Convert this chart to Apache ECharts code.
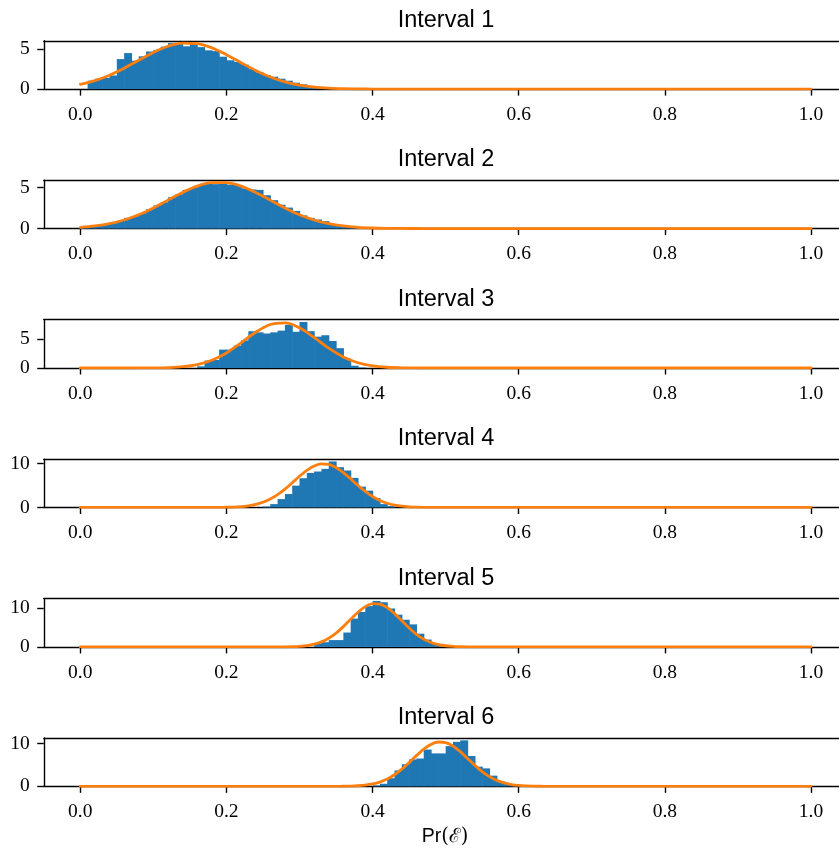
<!DOCTYPE html>
<html>
<head>
<meta charset="utf-8">
<script src="https://cdn.jsdelivr.net/npm/echarts@6/dist/echarts.min.js"></script>
<style>
  html, body { margin: 0; padding: 0; background: #ffffff; }
  #chart { width: 839px; height: 852px; }
</style>
</head>
<body>
<div id="chart"></div>
<script>
// ---- Data -------------------------------------------------------------
// Histogram densities, bin width 0.01, first bin starts at histNStart.
const binWidth = 0.01;

const titles = ['Interval 1', 'Interval 2', 'Interval 3', 'Interval 4', 'Interval 5', 'Interval 6'];
const xTicks = [0.0, 0.2, 0.4, 0.6, 0.8, 1.0];
const yTicksSmall = [0, 5];
const yTicksLarge = [0, 10];

const hist1Start = 0.01;
const hist1 = [1.05, 1.3, 1.4, 1.7, 3.75, 4.5, 3.55, 4.1, 4.7, 4.9, 5.3, 5.75, 5.75, 5.35, 5.65, 5.25, 4.85, 4.75,
  4.05, 3.6, 3.4, 3.05, 2.5, 2.1, 1.75, 1.55, 1.3, 1.05, 0.8, 0.6, 0.4, 0.25, 0.12, 0.05, 0.02];

const hist2Start = 0.00;
const hist2 = [0.15, 0.25, 0.35, 0.5, 0.65, 0.95, 1.3, 1.5, 1.85, 2.35, 2.8, 3.2, 3.8, 4.15, 4.7, 4.95, 5.3, 5.45,
  5.4, 5.45, 5.35, 5.3, 4.9, 4.75, 4.7, 4.05, 3.45, 2.9, 2.55, 2.15, 1.6, 1.3, 1.1, 0.9, 0.55, 0.4, 0.25, 0.15,
  0.1, 0.05, 0.02];

const hist3Start = 0.16;
const hist3 = [0.3, 1.3, 1.4, 3.2, 3.2, 3.9, 4.8, 6.4, 6.2, 6.0, 6.2, 6.5, 7.5, 6.3, 8.0, 6.4, 5.45, 5.7, 4.7,
  3.45, 1.65, 0.4, 0.1];

const hist4Start = 0.25;
const hist4 = [0.2, 0.76, 1.9, 3.05, 4.96, 6.64, 7.86, 8.17, 8.78, 10.46, 9.16, 8.4, 6.72, 4.73, 3.82, 2.14, 0.76, 0.3];

const hist5Start = 0.32;
const hist5 = [0.9, 1.2, 1.75, 1.75, 3.7, 7.3, 9.0, 10.5, 11.85, 11.5, 9.9, 8.3, 7.0, 5.8, 3.4, 1.9, 0.9, 0.3, 0.1];

const hist6Start = 0.40;
const hist6 = [0.2, 0.6, 1.9, 3.7, 5.15, 6.3, 6.5, 8.6, 7.7, 7.7, 9.4, 10.4, 10.75, 7.1, 4.6, 4.2, 2.5, 1.15, 0.6, 0.2];

// Fitted density curves, sampled from curveNStart with step curveNStep (zero elsewhere on [0, 1]).
const curve1Start = 0.00, curve1Step = 0.02;
const curve1 = [0.598, 1.062, 1.737, 2.61, 3.607, 4.584, 5.354, 5.75, 5.678, 5.155, 4.303, 3.303, 2.33, 1.512,
  0.902, 0.495, 0.25, 0.116, 0.049, 0.019, 0.007, 0.002, 0];

const curve2Start = 0.00, curve2Step = 0.02;
const curve2 = [0.151, 0.312, 0.592, 1.037, 1.678, 2.507, 3.456, 4.397, 5.162, 5.594, 5.594, 5.162, 4.397, 3.456,
  2.507, 1.678, 1.037, 0.592, 0.312, 0.151, 0.068, 0.028, 0.011, 0.004, 0.001, 0];

const curve3Start = 0.06, curve3Step = 0.02;
const curve3 = [0.001, 0.005, 0.02, 0.071, 0.221, 0.591, 1.346, 2.62, 4.37, 6.21, 7.56, 7.86, 6.99, 5.31, 3.45,
  1.92, 0.909, 0.369, 0.128, 0.038, 0.01, 0.002, 0];

const curve4Start = 0.18, curve4Step = 0.01;
const curve4 = [0.007, 0.018, 0.042, 0.092, 0.191, 0.373, 0.683, 1.18, 1.91, 2.91, 4.17, 5.61, 7.09, 8.43, 9.42,
  9.90, 9.78, 9.08, 7.92, 6.50, 5.01, 3.63, 2.48, 1.59, 0.954, 0.54, 0.288, 0.144, 0.068, 0.03, 0.012, 0.005,
  0.002, 0];

const curve5Start = 0.26, curve5Step = 0.01;
const curve5 = [0.003, 0.009, 0.026, 0.067, 0.157, 0.343, 0.692, 1.29, 2.23, 3.55, 5.22, 7.10, 8.92, 10.37, 11.13,
  11.04, 10.12, 8.58, 6.72, 4.86, 3.25, 2.01, 1.148, 0.605, 0.295, 0.133, 0.055, 0.021, 0.008, 0.003, 0.001, 0];

const curve6Start = 0.33, curve6Step = 0.01;
const curve6 = [0.001, 0.004, 0.010, 0.026, 0.061, 0.137, 0.285, 0.553, 1.005, 1.706, 2.705, 4.01, 5.55, 7.18,
  8.68, 9.81, 10.36, 10.22, 9.42, 8.11, 6.53, 4.91, 3.45, 2.27, 1.39, 0.798, 0.427, 0.214, 0.100, 0.044, 0.018,
  0.007, 0.002, 0.001, 0];

// ---- Layout -----------------------------------------------------------
const GRID_LEFT = 43.75;
const GRID_WIDTH = 795.25;          // runs to the right edge of the canvas
const X_MIN = -0.05;
const X_MAX = 1.0383;               // visible part of the [-0.05, 1.05] range
const PANEL_TOP0 = 40.8;
const PANEL_STEP = 139.45;
const PANEL_H = 48.3;

const BLUE = '#1f77b4';
const ORANGE = '#ff7f0e';
const TICK_FONT = '"Liberation Serif", "DejaVu Serif", serif';
const SANS_FONT = '"Liberation Sans", Arial, Helvetica, sans-serif';
const AXIS_LINE = { color: '#000', width: 1.4 };

const panels = [
  { hist: hist1, histStart: hist1Start, curve: curve1, cStart: curve1Start, cStep: curve1Step, yTicks: yTicksSmall },
  { hist: hist2, histStart: hist2Start, curve: curve2, cStart: curve2Start, cStep: curve2Step, yTicks: yTicksSmall },
  { hist: hist3, histStart: hist3Start, curve: curve3, cStart: curve3Start, cStep: curve3Step, yTicks: yTicksSmall },
  { hist: hist4, histStart: hist4Start, curve: curve4, cStart: curve4Start, cStep: curve4Step, yTicks: yTicksLarge },
  { hist: hist5, histStart: hist5Start, curve: curve5, cStart: curve5Start, cStep: curve5Step, yTicks: yTicksLarge },
  { hist: hist6, histStart: hist6Start, curve: curve6, cStart: curve6Start, cStep: curve6Step, yTicks: yTicksLarge }
];

const round = v => Math.round(v * 1e6) / 1e6;

const grids = [], xAxes = [], yAxes = [], series = [], graphics = [];

panels.forEach((p, i) => {
  const top = PANEL_TOP0 + i * PANEL_STEP;

  // histogram bins: [left edge, right edge, density]
  const binData = p.hist.map((v, k) => {
    const x0 = round(p.histStart + k * binWidth);
    return [x0, round(x0 + binWidth), v];
  });

  // density curve over [0, 1]
  const curveData = [];
  if (p.cStart > 0) curveData.push([0, 0]);
  p.curve.forEach((v, k) => curveData.push([round(p.cStart + k * p.cStep), v]));
  if (curveData[curveData.length - 1][0] < 1) curveData.push([1, 0]);

  const yMax = 1.05 * Math.max(Math.max(...p.hist), Math.max(...p.curve));

  grids.push({
    left: GRID_LEFT, top: top, width: GRID_WIDTH, height: PANEL_H,
    show: false, outerBoundsMode: 'none'
  });

  // bottom axis with ticks and labels
  xAxes.push({
    type: 'value', gridIndex: i, position: 'bottom', min: X_MIN, max: X_MAX,
    axisLine: { show: true, onZero: false, lineStyle: AXIS_LINE },
    axisTick: { show: true, length: 6.5, customValues: xTicks, lineStyle: AXIS_LINE },
    axisLabel: {
      show: true, customValues: xTicks, margin: 15.5,
      formatter: v => v.toFixed(1),
      fontFamily: TICK_FONT, fontSize: 19.5, color: '#000'
    },
    splitLine: { show: false }
  });
  // top frame line
  xAxes.push({
    type: 'value', gridIndex: i, position: 'top', min: X_MIN, max: X_MAX,
    axisLine: { show: true, onZero: false, lineStyle: AXIS_LINE },
    axisTick: { show: false }, axisLabel: { show: false }, splitLine: { show: false }
  });

  yAxes.push({
    type: 'value', gridIndex: i, position: 'left', min: 0, max: yMax,
    axisLine: { show: true, onZero: false, lineStyle: AXIS_LINE },
    axisTick: { show: true, length: 6.5, customValues: p.yTicks, lineStyle: AXIS_LINE },
    axisLabel: {
      show: true, customValues: p.yTicks, margin: 14,
      formatter: v => String(v),
      fontFamily: TICK_FONT, fontSize: 19.5, color: '#000'
    },
    splitLine: { show: false }
  });

  series.push({
    type: 'custom', xAxisIndex: 2 * i, yAxisIndex: i, z: 2,
    data: binData,
    encode: { x: [0, 1], y: 2 },
    renderItem: (params, api) => {
      const a = api.coord([api.value(0), api.value(2)]);
      const b = api.coord([api.value(1), 0]);
      return {
        type: 'rect',
        shape: { x: a[0], y: a[1], width: b[0] - a[0] + 0.6, height: b[1] - a[1] },
        style: { fill: BLUE }
      };
    },
    silent: true
  });

  series.push({
    type: 'line', xAxisIndex: 2 * i, yAxisIndex: i, z: 3,
    data: curveData,
    showSymbol: false, smooth: 0.35,
    lineStyle: { color: ORANGE, width: 2.8, cap: 'round', join: 'round' },
    itemStyle: { color: ORANGE },
    silent: true, animation: false
  });

  graphics.push({
    type: 'text', x: 446, y: top - 20.5,
    style: {
      text: titles[i], font: '23.5px ' + SANS_FONT, fill: '#000',
      align: 'center', verticalAlign: 'middle'
    }
  });
});

// x-axis label under the last panel
graphics.push({
  type: 'text', x: 445, y: 837,
  style: {
    text: '{a|Pr}{b|(ℰ)}',
    align: 'center', verticalAlign: 'middle',
    rich: {
      a: { fontFamily: SANS_FONT, fontSize: 19.5, fill: '#000', color: '#000' },
      b: { fontFamily: '"DejaVu Serif", "Liberation Serif", serif', fontSize: 19.5, fill: '#000', color: '#000' }
    }
  }
});

const chart = echarts.init(document.getElementById('chart'), null, { renderer: 'canvas' });
chart.setOption({
  animation: false,
  backgroundColor: '#ffffff',
  grid: grids,
  xAxis: xAxes,
  yAxis: yAxes,
  series: series,
  graphic: graphics
});
</script>
</body>
</html>
